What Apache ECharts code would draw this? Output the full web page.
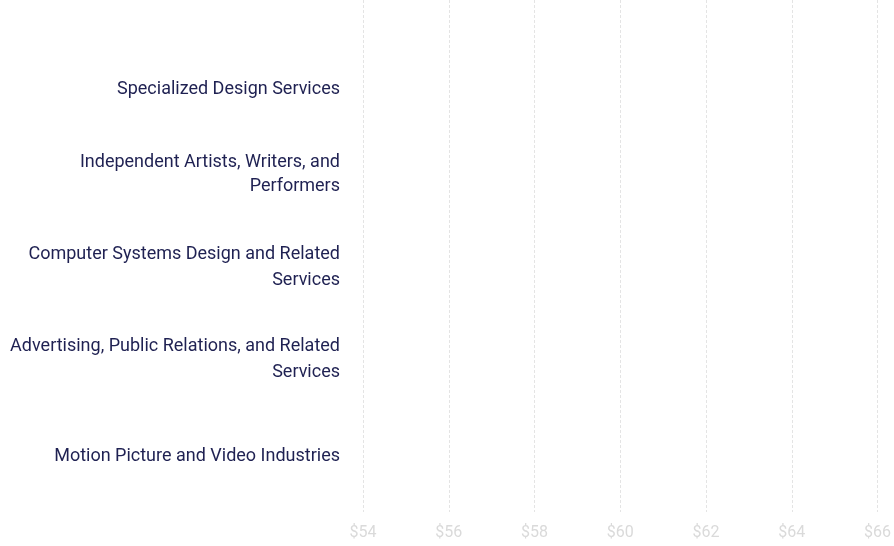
<!DOCTYPE html>
<html>
<head>
<meta charset="utf-8">
<script src="https://cdn.jsdelivr.net/npm/echarts@6/dist/echarts.min.js"></script>
<style>
html,body{margin:0;padding:0;background:#fff;}
#chart{width:894px;height:546px;}
</style>
</head>
<body>
<div id="chart"></div>
<script>
const categories = [
  "Specialized Design Services",
  "Independent Artists, Writers, and Performers",
  "Computer Systems Design and Related Services",
  "Advertising, Public Relations, and Related Services",
  "Motion Picture and Video Industries"
];
// Hourly wages (no bar reaches the visible $54 start of the axis)
const wages = [38.5, 41.2, 52.3, 45.6, 48.9];
const tickMin = 54;
const tickMax = 66;
const tickStep = 2;

// small vertical label nudges (px, + = down) to follow the reference layout
const labelNudge = [6, -2, 0, 0, 5];

const LABEL_FONT = '18px Roboto';
const LABEL_WIDTH = 340;
const ctx = document.createElement('canvas').getContext('2d');
ctx.font = LABEL_FONT;
function wrap(text) {
  const words = text.split(' ');
  const lines = [];
  let cur = '';
  words.forEach(w => {
    const t = cur ? cur + ' ' + w : w;
    if (cur && ctx.measureText(t).width > LABEL_WIDTH) { lines.push(cur); cur = w; }
    else cur = t;
  });
  if (cur) lines.push(cur);
  return lines;
}

const rich = {};
const baseRich = { color: '#1f2152', fontSize: 18, fontFamily: 'Roboto', lineHeight: 26, align: 'right' };
rich.n = Object.assign({}, baseRich);
labelNudge.forEach((d, i) => {
  if (d > 0) rich['t' + i] = Object.assign({}, baseRich, { padding: [2 * d, 0, 0, 0] });
  if (d < 0) rich['b' + i] = Object.assign({}, baseRich, { padding: [0, 0, -2 * d, 0] });
});

function labelFormatter(value, index) {
  const lines = wrap(value);
  const d = labelNudge[index] || 0;
  return lines.map((ln, k) => {
    let key = 'n';
    if (d > 0 && k === 0) key = 't' + index;
    if (d < 0 && k === lines.length - 1) key = 'b' + index;
    return '{' + key + '|' + ln + '}';
  }).join('\n');
}

const chart = echarts.init(document.getElementById('chart'));
chart.setOption({
  animation: false,
  textStyle: { fontFamily: 'Roboto' },
  grid: [
    { left: 363, right: 15, top: 0, bottom: 34 },
    { left: 363, right: 15, top: 37, height: 460 }
  ],
  xAxis: [
    {
      gridIndex: 0, type: 'value', min: tickMin, max: tickMax, interval: tickStep,
      axisLine: { show: false }, axisTick: { show: false },
      splitLine: { show: true, lineStyle: { color: '#e4e4e4', type: [3, 2], width: 1 } },
      axisLabel: { color: '#dadada', fontSize: 16, margin: 13, fontFamily: 'Roboto',
        formatter: v => '$' + v }
    },
    {
      gridIndex: 1, type: 'value', min: tickMin, max: tickMax, interval: tickStep, show: false
    }
  ],
  yAxis: [
    { gridIndex: 0, type: 'value', show: false },
    {
      gridIndex: 1, type: 'category', data: categories, inverse: true,
      axisLine: { show: false }, axisTick: { show: false }, splitLine: { show: false },
      axisLabel: {
        color: '#1f2152', fontSize: 18, fontFamily: 'Roboto', margin: 23,
        lineHeight: 26, align: 'right', formatter: labelFormatter, rich: rich
      }
    }
  ],
  series: [
    {
      type: 'bar', xAxisIndex: 1, yAxisIndex: 1, data: wages,
      clip: true, barWidth: '50%',
      itemStyle: { color: '#1f2152' }
    }
  ]
});
</script>
</body>
</html>
